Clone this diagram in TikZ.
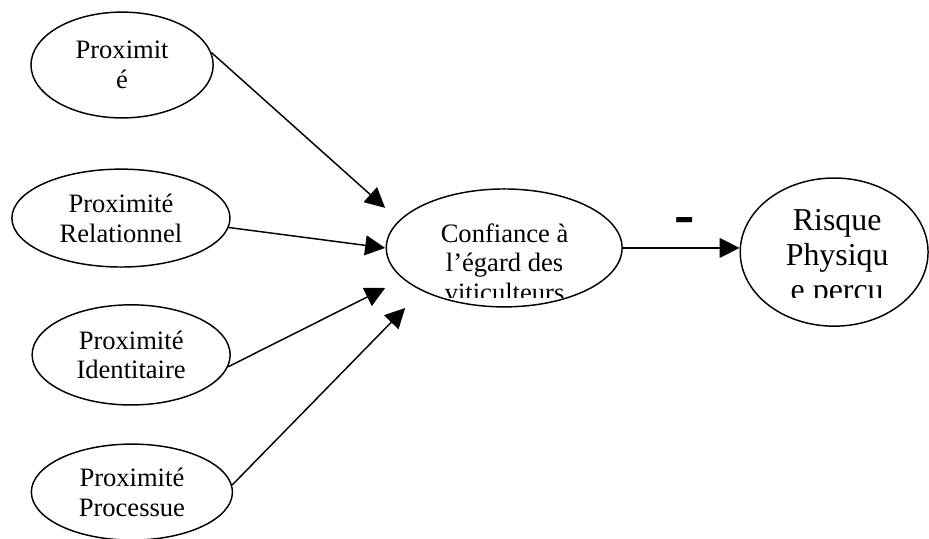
\documentclass[tikz,border=0pt]{standalone}
\usepackage{fontspec}
\setmainfont{Liberation Serif}
\usetikzlibrary{arrows.meta,shapes.geometric}

\begin{document}
\begin{tikzpicture}[
  font=\fontsize{20}{22.5}\selectfont, >={Triangle[length=15pt, width=15pt]},
  oval/.style={draw, ellipse, line width=1.1pt, inner sep=0pt, align=center},
  txt/.style={align=center, inner sep=0pt},
  arr/.style={->, line width=1.1pt},
  sign/.style={font=\fontsize{46}{46}\selectfont\bfseries, inner sep=0pt},
]
\useasboundingbox (0,0) rectangle (24.58,-14.26);
% proximity ovals (left column)
\node[oval, minimum width=4.82cm, minimum height=2.80cm] (prox)  at (3.23,-1.72)  {Proximit\\é};
\node[oval, minimum width=5.77cm, minimum height=2.59cm] (rel)   at (3.20,-5.77)  {Proximité\\Relationnel};
\node[oval, minimum width=5.24cm, minimum height=2.65cm] (ident) at (3.47,-9.39)  {Proximité\\Identitaire};
\node[oval, minimum width=5.32cm, minimum height=2.54cm] (proc)  at (3.49,-13.02) {Proximité\\Processue};
% trust and perceived risk
\node[oval, minimum width=6.24cm, minimum height=3.12cm] (conf) at (13.34,-6.56) {};
\node[oval, minimum width=4.97cm, minimum height=3.92cm] (risk) at (22.07,-6.67) {};
% their text boxes cut the last line
\begin{scope}
  \clip (10,-4) rectangle (24.58,-7.86);
  \node[txt] (conftxt) at (13.35,-6.95) {Confiance à\\l’égard des\\viticulteurs};
  \node[txt, font=\fontsize{24}{26.25}\selectfont] (risktxt) at (22.15,-6.83) {Risque\\Physiqu\\e percu};
\end{scope}
% arrow ends
\coordinate (t1) at (10.19,-5.50);
\coordinate (t2) at (10.19,-6.56);
\coordinate (t3) at (10.19,-7.62);
\coordinate (t4) at (10.72,-8.15);
% arrows
\draw[arr] (prox.8) -- (t1);
\draw[arr] (rel.-5) -- (t2);
\draw[arr] (ident.-7) -- (t3);
\draw[arr] (proc.4) -- (t4);
\draw[arr] (conf.east) -- (conf.east -| risk.west);
\node[sign] (minus) at (18.12,-5.98) {-};
\end{tikzpicture}
\end{document}
